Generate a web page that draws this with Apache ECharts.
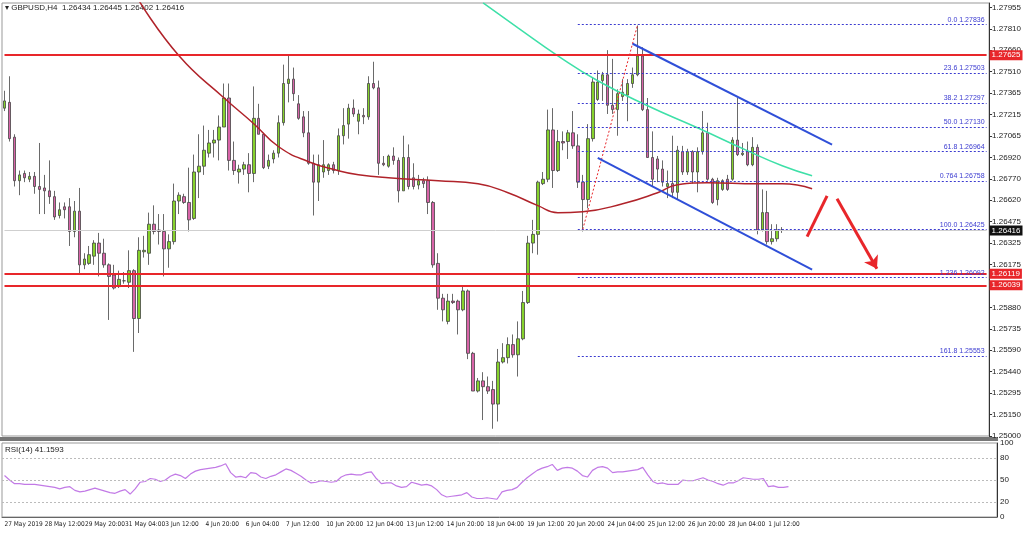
<!DOCTYPE html>
<html>
<head>
<meta charset="utf-8">
<script src="https://cdn.jsdelivr.net/npm/echarts@6/dist/echarts.min.js"></script>
<style>html,body{margin:0;padding:0;background:#fff}#chart{width:1024px;height:534px}</style>
</head>
<body>
<div id="chart"></div>
<script>
// GBPUSD H4 candles: [open, close, low, high]
const ohlc = [
[1.2726,1.2731,1.2724,1.2738],[1.2730,1.2705,1.2703,1.2748],[1.2706,1.2676,1.2672,1.2708],[1.2676,1.2680,1.2666,1.2683],
[1.2681,1.2678,1.2675,1.2683],[1.2677,1.2679,1.2675,1.2682],[1.2679,1.2672,1.2667,1.2682],[1.2672,1.2670,1.2653,1.2702],
[1.2671,1.2669,1.2653,1.2680],[1.2669,1.2665,1.2660,1.2690],[1.2665,1.2651,1.2649,1.2669],[1.2652,1.2656,1.2650,1.2661],
[1.2658,1.2656,1.2650,1.2661],[1.2658,1.2641,1.2631,1.2664],[1.2641,1.2655,1.2637,1.2662],[1.2655,1.2618,1.2611,1.2671],
[1.2618,1.2622,1.2615,1.2626],[1.2619,1.2625,1.2618,1.2631],[1.2624,1.2633,1.2618,1.2635],[1.2633,1.2626,1.2610,1.2640],
[1.2626,1.2618,1.2616,1.2636],[1.2618,1.2610,1.2580,1.2619],[1.2611,1.2602,1.2601,1.2618],[1.2603,1.2608,1.2602,1.2614],
[1.2607,1.2607,1.2605,1.2613],[1.2606,1.2614,1.2602,1.2628],[1.2614,1.2581,1.2558,1.2615],[1.2581,1.2628,1.2571,1.2637],
[1.2627,1.2628,1.2623,1.2638],[1.2626,1.2646,1.2618,1.2654],[1.2646,1.2641,1.2639,1.2659],[1.2642,1.2641,1.2632,1.2653],
[1.2641,1.2629,1.2610,1.2653],[1.2629,1.2634,1.2616,1.2639],[1.2634,1.2662,1.2632,1.2674],[1.2662,1.2666,1.2653,1.2668],
[1.2665,1.2661,1.2660,1.2667],[1.2661,1.2649,1.2641,1.2685],[1.2650,1.2682,1.2649,1.2694],[1.2682,1.2686,1.2664,1.2708],
[1.2686,1.2697,1.2680,1.2714],[1.2695,1.2702,1.2692,1.2711],[1.2702,1.2704,1.2692,1.2711],[1.2704,1.2713,1.2690,1.2721],
[1.2713,1.2733,1.2713,1.2743],[1.2733,1.2690,1.2683,1.2743],[1.2690,1.2683,1.2680,1.2703],[1.2682,1.2684,1.2674,1.2687],
[1.2684,1.2687,1.2680,1.2689],[1.2687,1.2681,1.2668,1.2695],[1.2681,1.2719,1.2675,1.2741],[1.2719,1.2708,1.2708,1.2729],
[1.2708,1.2685,1.2684,1.2709],[1.2686,1.2690,1.2684,1.2694],[1.2691,1.2695,1.2688,1.2697],[1.2695,1.2716,1.2692,1.2721],
[1.2716,1.2743,1.2714,1.2756],[1.2743,1.2746,1.2730,1.2763],[1.2746,1.2736,1.2731,1.2754],[1.2729,1.2719,1.2718,1.2735],
[1.2720,1.2709,1.2706,1.2724],[1.2709,1.2688,1.2687,1.2724],[1.2688,1.2675,1.2652,1.2694],[1.2675,1.2687,1.2662,1.2694],
[1.2682,1.2687,1.2678,1.2704],[1.2683,1.2687,1.2680,1.2688],[1.2687,1.2683,1.2681,1.2689],[1.2683,1.2707,1.2680,1.2712],
[1.2707,1.2714,1.2701,1.2726],[1.2715,1.2726,1.2705,1.2729],[1.2726,1.2722,1.2720,1.2732],[1.2717,1.2722,1.2708,1.2725],
[1.2721,1.2720,1.2715,1.2726],[1.2720,1.2743,1.2718,1.2748],[1.2743,1.2740,1.2739,1.2758],[1.2740,1.2688,1.2680,1.2745],
[1.2688,1.2687,1.2686,1.2693],[1.2686,1.2693,1.2685,1.2694],[1.2693,1.2690,1.2687,1.2699],[1.2690,1.2669,1.2661,1.2692],
[1.2669,1.2692,1.2669,1.2707],[1.2692,1.2672,1.2670,1.2701],[1.2678,1.2672,1.2670,1.2688],[1.2673,1.2676,1.2670,1.2680],
[1.2676,1.2674,1.2671,1.2678],[1.2676,1.2661,1.2653,1.2679],[1.2661,1.2618,1.2616,1.2662],[1.2619,1.2595,1.2587,1.2626],
[1.2595,1.2587,1.2579,1.2598],[1.2579,1.2593,1.2577,1.2598],[1.2593,1.2592,1.2591,1.2598],[1.2593,1.2587,1.2570,1.2594],
[1.2587,1.2600,1.2586,1.2604],[1.2600,1.2557,1.2553,1.2601],[1.2557,1.2531,1.2531,1.2558],[1.2531,1.2538,1.2530,1.2540],
[1.2538,1.2534,1.2511,1.2544],[1.2534,1.2531,1.2529,1.2541],[1.2532,1.2522,1.2505,1.2538],[1.2522,1.2551,1.2510,1.2560],
[1.2551,1.2554,1.2550,1.2564],[1.2554,1.2563,1.2550,1.2568],[1.2563,1.2556,1.2554,1.2570],[1.2556,1.2567,1.2541,1.2579],
[1.2567,1.2592,1.2566,1.2600],[1.2592,1.2633,1.2591,1.2638],[1.2633,1.2639,1.2626,1.2649],[1.2639,1.2675,1.2625,1.2676],
[1.2674,1.2677,1.2673,1.2682],[1.2677,1.2711,1.2675,1.2725],[1.2711,1.2683,1.2671,1.2726],[1.2683,1.2703,1.2682,1.2711],
[1.2703,1.2702,1.2697,1.2710],[1.2703,1.2709,1.2691,1.2711],[1.2709,1.2700,1.2698,1.2724],[1.2700,1.2675,1.2671,1.2708],
[1.2675,1.2663,1.2641,1.2680],[1.2663,1.2705,1.2657,1.2715],[1.2705,1.2744,1.2703,1.2747],[1.2732,1.2744,1.2731,1.2752],
[1.2745,1.2749,1.2731,1.2751],[1.2749,1.2728,1.2722,1.2766],[1.2728,1.2725,1.2722,1.2760],[1.2725,1.2736,1.2707,1.2739],
[1.2734,1.2737,1.2731,1.2746],[1.2735,1.2743,1.2717,1.2746],[1.2743,1.2749,1.2740,1.2754],[1.2749,1.2762,1.2748,1.2783],
[1.2762,1.2725,1.2724,1.2768],[1.2725,1.2692,1.2692,1.2733],[1.2692,1.2677,1.2672,1.2710],[1.2691,1.2684,1.2675,1.2693],
[1.2684,1.2675,1.2672,1.2690],[1.2672,1.2674,1.2664,1.2683],[1.2674,1.2668,1.2664,1.2707],[1.2668,1.2697,1.2663,1.2700],
[1.2696,1.2682,1.2680,1.2700],[1.2682,1.2696,1.2680,1.2698],[1.2696,1.2682,1.2674,1.2697],[1.2682,1.2696,1.2668,1.2699],
[1.2696,1.2709,1.2694,1.2724],[1.2709,1.2677,1.2676,1.2716],[1.2677,1.2661,1.2660,1.2678],[1.2663,1.2676,1.2659,1.2678],
[1.2670,1.2676,1.2669,1.2677],[1.2677,1.2670,1.2669,1.2680],[1.2677,1.2704,1.2676,1.2706],[1.2704,1.2694,1.2693,1.2733],
[1.2694,1.2695,1.2693,1.2702],[1.2696,1.2687,1.2686,1.2703],[1.2687,1.2699,1.2686,1.2706],[1.2699,1.2642,1.2639,1.2701],
[1.2642,1.2654,1.2641,1.2670],[1.2654,1.2634,1.2632,1.2669],[1.2634,1.2636,1.2632,1.2646],[1.2636,1.2642,1.2634,1.2646],
[1.2642,1.2642,1.2640,1.2644]
];

const rsi14 = [56,50,45,45,44,44,44,43,42,41,40,38,40,41,36,34,35,37,39,37,35,33,32,35,37,31,38,47,48,52,51,48,50,55,58,56,52,58,62,64,
65,66,67,69,72,60,54,55,53,60,59,54,52,55,57,61,65,63,59,55,50,46,47,49,48,47,48,54,57,58,57,57,60,61,52,45,46,46,42,40,
41,47,45,43,44,42,37,30,27,28,29,30,33,27,25,25,26,25,24,34,36,37,40,47,53,58,63,66,68,71,63,66,67,66,62,56,54,63,67,68,
66,60,61,61,62,63,64,67,57,48,45,46,44,44,44,50,49,49,51,53,50,48,45,43,46,46,49,53,52,51,51,52,41,42,40,40,41];

const dateLabels = ['27 May 2019','28 May 12:00','29 May 20:00','31 May 04:00','3 Jun 12:00','4 Jun 20:00','6 Jun 04:00',
  '7 Jun 12:00','10 Jun 20:00','12 Jun 04:00','13 Jun 12:00','14 Jun 20:00','18 Jun 04:00','19 Jun 12:00','20 Jun 20:00',
  '24 Jun 04:00','25 Jun 12:00','26 Jun 20:00','28 Jun 04:00','1 Jul 12:00'];

const priceTicks = ['1.25000','1.25150','1.25295','1.25440','1.25590','1.25735','1.25880','1.26030','1.26175','1.26325',
  '1.26475','1.26620','1.26770','1.26920','1.27065','1.27215','1.27365','1.27510','1.27660','1.27810','1.27955'];

// moving averages as [bar index, price]
const maSlow = [[26.7,1.2800],[35.3,1.27621],[43.8,1.27332],[49.8,1.27153],[55.1,1.26994],[61.1,1.26891],[67,1.26829],
  [71,1.26801],[77,1.2678],[86.9,1.2676],[94.8,1.26739],[101.4,1.26677],[106.8,1.26588],[110.7,1.26539],[116.1,1.26546],
  [124,1.26601],[130.6,1.26677],[134.6,1.26732],[141.1,1.26746],[151,1.26739],[155.8,1.26739],[162.2,1.26705]];
const maFast = [[95.8,1.27986],[102.8,1.27814],[110.7,1.27621],[119.3,1.27449],[128.6,1.27277],[138.5,1.27125],
  [148.5,1.26967],[156.4,1.26863],[162.4,1.26794]];

const fibLevels = [['0.0',1.27836],['23.6',1.27503],['38.2',1.27297],['50.0',1.2713],['61.8',1.26964],
  ['0.764',1.26758],['100.0',1.26425],['1.236',1.26092],['161.8',1.25553]];
const redLevels = [1.27625, 1.26119, 1.26039];
const lastPrice = 1.26416;
const channelUpper = [[126,1.27704],[166.3,1.27008]];
const channelLower = [[119.3,1.26918],[162.2,1.26147]];
const fibSwing = [[116,1.26425],[127,1.27836]];
const arrowUp = [[160.6,1.26374],[164.8,1.26656]];
const arrowDown = [[166.7,1.26636],[174.7,1.26153]];

const nCats = 198;
const cats = Array.from({length: nCats}, (_, i) => i);
const font = 'Liberation Sans';

const chart = echarts.init(document.getElementById('chart'));

const hline = (v, color, width, boxColor) => [
  {coord: [0, v], lineStyle: {color: color, width: width, type: 'solid'},
   label: {show: true, position: 'end', distance: 3, formatter: v.toFixed(5), fontFamily: font, fontSize: 8,
     color: '#fff', backgroundColor: boxColor, padding: [1, 2]}},
  {coord: [nCats - 1, v]}];
const seg = (pts, color, width, type, end) => [
  {coord: pts[0], lineStyle: {color: color, width: width, type: type}, label: {show: false}},
  Object.assign({coord: pts[1]}, end ? {symbol: 'arrow', symbolSize: 12} : {})];

chart.setOption({
  animation: false,
  backgroundColor: '#fff',
  grid: [
    {left: 2, right: 27, top: 3, height: 433, show: true, borderColor: '#999', borderWidth: 1},
    {left: 2, right: 27, top: 443, height: 74, show: true, borderColor: '#999', borderWidth: 1}
  ],
  xAxis: [
    {type: 'category', gridIndex: 0, data: cats, boundaryGap: true,
     axisLine: {show: false}, axisTick: {show: false}, axisLabel: {show: false}},
    {type: 'category', gridIndex: 1, data: cats, boundaryGap: true,
     axisLine: {lineStyle: {color: '#666'}},
     axisTick: {interval: 7, alignWithLabel: true, length: 4, lineStyle: {color: '#666'}},
     axisLabel: {interval: 7, align: 'left', margin: 4, fontFamily: 'DejaVu Sans Condensed', fontSize: 6.5,
       color: '#222', showMinLabel: true, hideOverlap: false,
       formatter: (v, i) => dateLabels[Math.round(Number(v) / 8)] || ''}}
  ],
  yAxis: [
    {type: 'value', gridIndex: 0, position: 'right', min: 1.25, max: 1.27985, interval: 0.0014775,
     splitLine: {show: false},
     axisLine: {show: true, lineStyle: {color: '#333'}},
     axisTick: {show: true, length: 3, lineStyle: {color: '#333'}},
     axisLabel: {fontFamily: font, fontSize: 8, color: '#222', margin: 3, showMaxLabel: false,
       formatter: (v, i) => priceTicks[i] || ''}},
    {type: 'value', gridIndex: 1, position: 'right', min: 0, max: 100, interval: 10,
     splitLine: {show: false},
     axisLine: {show: true, lineStyle: {color: '#333'}},
     axisTick: {show: false},
     axisLabel: {fontFamily: font, fontSize: 8, color: '#222', margin: 3,
       formatter: v => [0, 20, 50, 80, 100].includes(v) ? String(v) : ''}}
  ],
  graphic: [
    {type: 'rect', left: 0, top: 437, shape: {width: 998, height: 4}, style: {fill: '#777'}},
    {type: 'text', left: 5, top: 4, style: {text: '▾ GBPUSD,H4  1.26434 1.26445 1.26402 1.26416',
      font: '8px ' + font, fill: '#222'}},
    {type: 'text', left: 5, top: 446, style: {text: 'RSI(14) 41.1593', font: '8px ' + font, fill: '#222'}}
  ],
  series: [
    {type: 'candlestick', xAxisIndex: 0, yAxisIndex: 0, data: ohlc, barWidth: 3,
     itemStyle: {color: '#86d22c', color0: '#d864a8', borderColor: '#444', borderColor0: '#444', borderWidth: 0.8},
     markLine: {
       silent: true, symbol: ['none', 'none'], animation: false,
       data: [
         hline(lastPrice, '#cfcfcf', 1, '#111'),
         ...redLevels.map(v => hline(v, '#e8262a', 2, '#e8262a')),
         ...fibLevels.map(([n, v]) => [
           {coord: [115, v], lineStyle: {color: '#3b3bd0', width: 1, type: [2, 2]},
            label: {show: true, position: 'insideEndTop', distance: [2, 1], formatter: n + ' ' + v.toFixed(5),
              fontFamily: font, fontSize: 7, color: '#3b3bd0'}},
           {coord: [nCats - 1, v]}]),
         seg(fibSwing, '#e8262a', 1, [2, 2]),
         seg(channelUpper, '#2f4fd8', 2, 'solid'),
         seg(channelLower, '#2f4fd8', 2, 'solid'),
         seg(arrowUp, '#e8262a', 3, 'solid'),
         seg(arrowDown, '#e8262a', 3, 'solid', true)
       ]
     }},
    {type: 'line', xAxisIndex: 0, yAxisIndex: 0, data: maSlow, smooth: true, showSymbol: false,
     lineStyle: {color: '#b0232a', width: 1.5}, z: 3},
    {type: 'line', xAxisIndex: 0, yAxisIndex: 0, data: maFast, smooth: true, showSymbol: false,
     lineStyle: {color: '#3ee0a8', width: 1.5}, z: 3},
    {type: 'line', xAxisIndex: 1, yAxisIndex: 1, data: rsi14, showSymbol: false,
     lineStyle: {color: '#c27ae6', width: 1.2},
     markLine: {silent: true, symbol: ['none', 'none'], label: {show: false},
       lineStyle: {color: '#bbb', type: [2, 2], width: 1},
       data: [{yAxis: 20}, {yAxis: 50}, {yAxis: 80}]}}
  ]
});
</script>
</body>
</html>
